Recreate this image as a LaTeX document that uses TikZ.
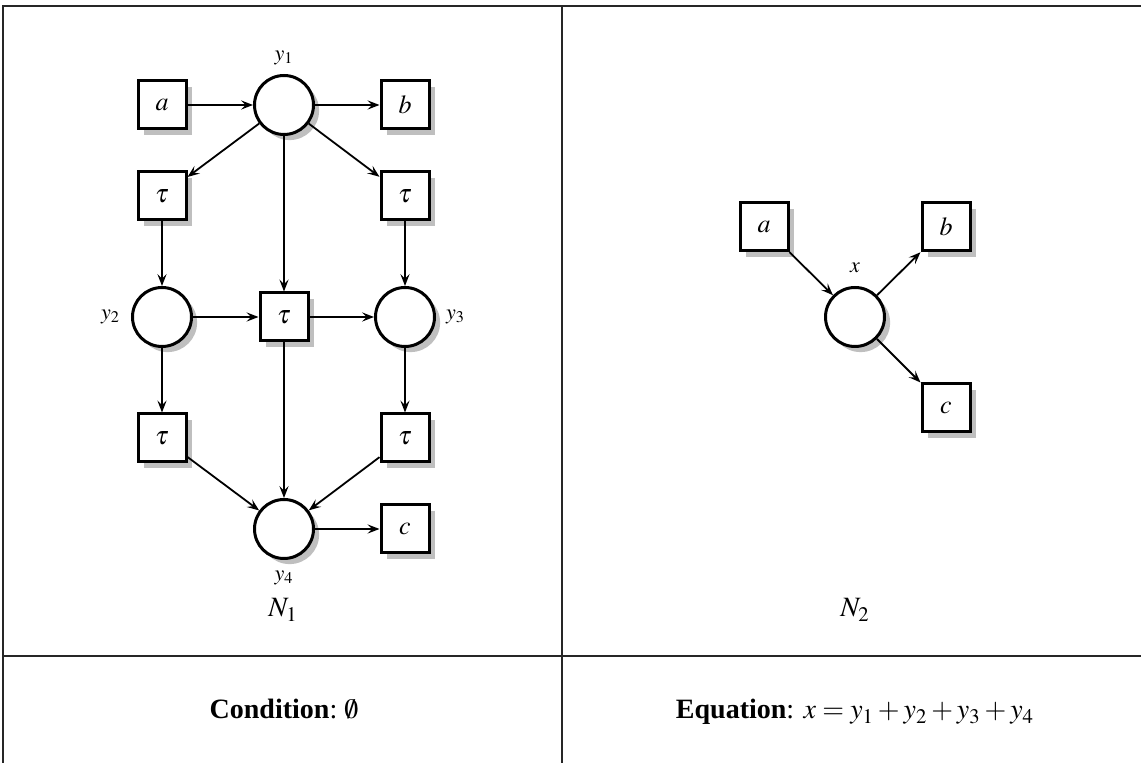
\documentclass[tikz,border=0pt]{standalone}
\usepackage{mathptmx}
\usepackage{fontspec}
\setmainfont{Liberation Serif}
\usetikzlibrary{positioning,arrows.meta,shadows}

\begin{document}
\begin{tikzpicture}[
  x=0.5pt, y=-0.5pt,
  every node/.style={font=\fontsize{13}{15}\selectfont},
  shade/.style={drop shadow={shadow xshift=2.8pt, shadow yshift=-2.8pt, fill=black!25, opacity=1}},
  place/.style={circle, draw, line width=1.5pt, minimum size=29.5pt, inner sep=0pt, fill=white, shade},
  trans/.style={rectangle, draw, line width=1.5pt, minimum size=24pt, inner sep=0pt, fill=white, shade},
  lab/.style={font=\fontsize{11}{13}\selectfont},
  netname/.style={anchor=base, font=\fontsize{14}{16}\selectfont},
  arc/.style={-{Stealth[length=6pt, width=4.6pt, inset=2.4pt]}, line width=0.9pt},
  rule/.style={line width=0.7pt, black!85}
]
\useasboundingbox (0,0) rectangle (1141,763);
% table rules
\draw[rule] (3,763) -- (3,6) -- (1141,6);
\draw[rule] (562,6) -- (562,763);
\draw[rule] (3,656) -- (1141,656);
% net N1
\node[trans] (a1) at (162,105) {$a$};
\node[place, label={[lab, label distance=1pt]above:$y_1$}] (y1) at (284,105) {};
\node[trans] (b1) at (405,105) {$b$};
\node[trans] (t1) at (162,196) {$\tau$};
\node[trans] (t2) at (405,196) {$\tau$};
\node[place, label={[lab, label distance=2pt]left:$y_2$}] (y2) at (162,317) {};
\node[trans] (t3) at (284,317) {$\tau$};
\node[place, label={[lab, label distance=1.5pt]right:$y_3$}] (y3) at (405,317) {};
\node[trans] (t4) at (162,438) {$\tau$};
\node[trans] (t5) at (405,438) {$\tau$};
\node[place, label={[lab, label distance=2pt]below:$y_4$}] (y4) at (284,529) {};
\node[trans] (c1) at (405,529) {$c$};
\node[netname] (n1) at (283,617) {$N_1$};
\draw[arc] (a1) -- (y1);
\draw[arc] (y1) -- (b1);
\draw[arc] (y1) -- (t1);
\draw[arc] (y1) -- (t2);
\draw[arc] (y1) -- (t3);
\draw[arc] (t1) -- (y2);
\draw[arc] (t2) -- (y3);
\draw[arc] (y2) -- (t3);
\draw[arc] (t3) -- (y3);
\draw[arc] (y2) -- (t4);
\draw[arc] (y3) -- (t5);
\draw[arc] (t4) -- (y4);
\draw[arc] (t5) -- (y4);
\draw[arc] (t3) -- (y4);
\draw[arc] (y4) -- (c1);
% net N2
\node[trans] (a2) at (764,227) {$a$};
\node[trans] (b2) at (946,227) {$b$};
\node[place, label={[lab, label distance=3pt]above:$x$}] (x) at (855,317) {};
\node[trans] (c2) at (946,408) {$c$};
\node[netname] (n2) at (855,617) {$N_2$};
\draw[arc] (a2) -- (x);
\draw[arc] (x) -- (b2);
\draw[arc] (x) -- (c2);
% bottom row
\node[anchor=base, font=\fontsize{14}{16}\selectfont] (cond) at (284,719) {\textbf{Condition}:~$\emptyset$};
\node[anchor=base, font=\fontsize{14}{16}\selectfont] (eq) at (855,719) {\textbf{Equation}: $x = y_1 + y_2 + y_3 + y_4$};
\end{tikzpicture}
\end{document}
